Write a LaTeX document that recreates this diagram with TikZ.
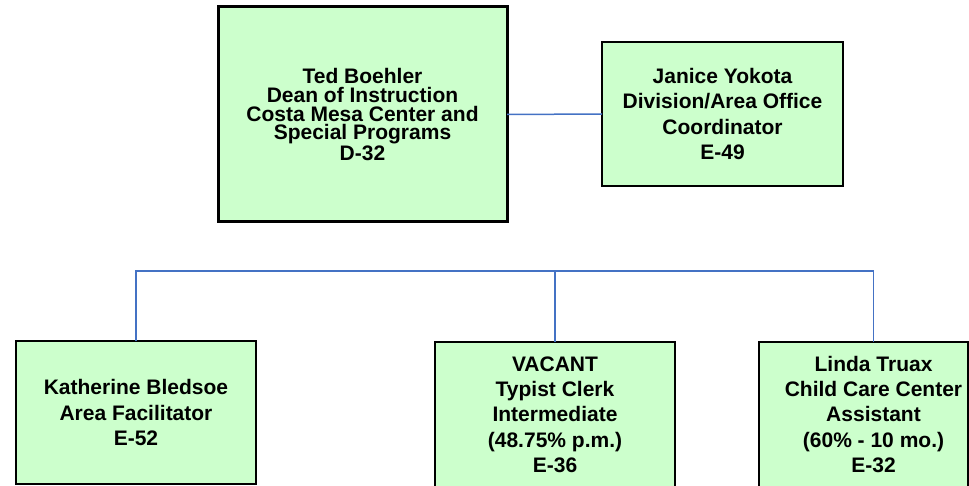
\documentclass[tikz,border=0pt]{standalone}
\usepackage{fontspec}
\setmainfont{Liberation Sans}
\definecolor{boxgreen}{HTML}{CCFFCC}
\definecolor{connblue}{HTML}{4472C4}
\tikzset{
  orgbox/.style={draw=black, line width=2pt, fill=boxgreen, outer sep=0pt, inner sep=0pt,
    anchor=north west, align=center, font=\bfseries\fontsize{21}{25.3}\selectfont},
  topbox/.style={orgbox, line width=3pt, font=\bfseries\fontsize{21}{18.7}\selectfont},
  orgtext/.style={inner sep=0pt, outer sep=0pt, align=center, font=\bfseries\fontsize{21}{25.3}\selectfont},
  conn/.style={draw=connblue, line width=1.5pt}
}
\begin{document}
\begin{tikzpicture}[x=1pt,y=-1pt]
\useasboundingbox (0,0) rectangle (969,486);
\node[topbox, minimum width=289pt, minimum height=215pt] (ted) at (218,7)
  {Ted Boehler\\Dean of Instruction\\Costa Mesa Center and\\Special Programs\\D-32};
\node[orgbox, minimum width=241pt, minimum height=144pt] (janice) at (602,42)
  {Janice Yokota\\Division/Area Office\\Coordinator\\E-49};
\node[orgbox, minimum width=240pt, minimum height=143pt] (kath) at (16,341)
  {Katherine Bledsoe\\Area Facilitator\\E-52};
\node[orgbox, minimum width=240pt, minimum height=145pt] (vac) at (435,342)
  {VACANT\\Typist Clerk\\Intermediate\\(48.75\% p.m.)\\E-36};
\node[orgbox, minimum width=209pt, minimum height=145pt] (linda) at (759,342) {};
\node[orgtext] (lindatext) at ([xshift=10pt]linda.center)
  {Linda Truax\\Child Care Center\\Assistant\\(60\% - 10 mo.)\\E-32};
\coordinate (bus) at (0,271);
\draw[conn] (ted.east) -- (janice.west);
\draw[conn] (kath.north) |- (lindatext |- bus) -- (lindatext |- linda.north);
\draw[conn] (vac.north) -- (vac.north |- bus);
\end{tikzpicture}
\end{document}
